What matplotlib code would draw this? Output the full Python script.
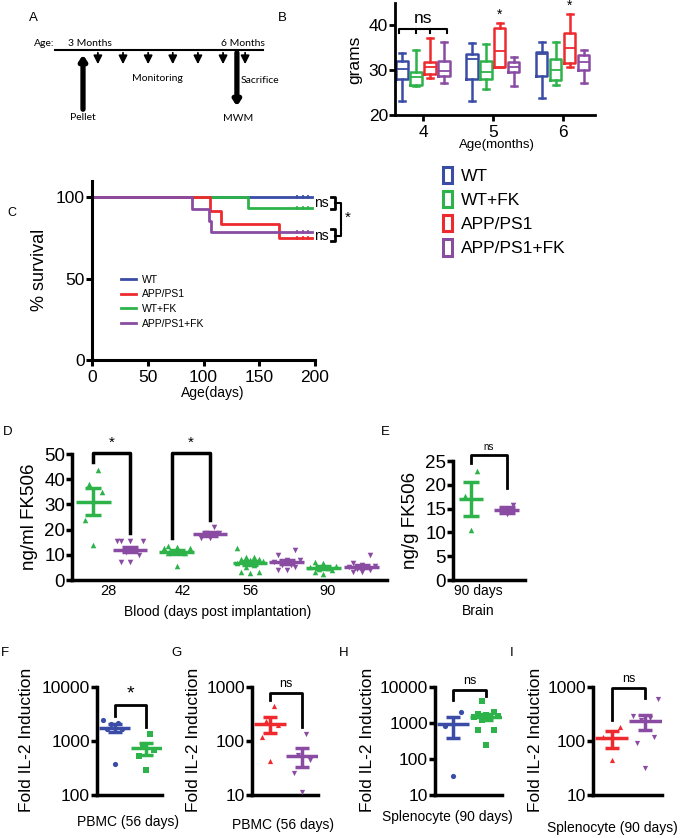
import numpy as np
import matplotlib
matplotlib.use('Agg')
import matplotlib.pyplot as plt
from matplotlib.patches import Patch
from matplotlib.lines import Line2D
from matplotlib.ticker import NullLocator

plt.rcParams['font.family'] = ['Liberation Sans', 'DejaVu Sans']

W, H = 685, 838
BLUE = '#3a4ca6'
GREEN = '#2db34a'
RED = '#ee2a2e'
PURPLE = '#8a4ca2'

# ---- A: study timeline (months of age) ----
timeline_start, timeline_end = 2.45, 6.51
pellet_month = 3.0
monitor_months = [3.29, 3.78, 4.27, 4.75, 5.24, 5.73]
mwm_month = 6.0
sacrifice_month = 6.16

# ---- B: body weight, [min, q1, median, q3, max] at each age ----
months = ['4', '5', '6']
wt_weight = [[23.1, 28.0, 30.2, 32.1, 33.8], [23.1, 28.0, 32.5, 33.7, 36.0], [23.9, 28.6, 33.7, 34.1, 36.4]]
wtfk_weight = [[26.4, 26.8, 28.5, 29.6, 34.4], [25.7, 28.1, 29.6, 32.0, 35.8], [26.6, 27.8, 30.0, 32.6, 36.4]]
app_weight = [[28.3, 29.2, 30.8, 31.9, 37.2], [30.7, 30.7, 34.3, 39.5, 40.6], [30.7, 31.5, 34.9, 38.2, 42.5]]
appfk_weight = [[27.1, 28.6, 29.8, 32.1, 36.3], [26.4, 29.6, 30.7, 31.9, 33.0], [27.1, 30.0, 31.9, 33.4, 34.5]]

# ---- C: survival ----
wt_surv_t, wt_surv = [0, 197], [100, 100]
wtfk_surv_t, wtfk_surv = [0, 140, 197], [100, 93.3, 93.3]
app_surv_t, app_surv = [0, 106, 116, 168, 197], [100, 91.7, 83.3, 75.0, 75.0]
appfk_surv_t, appfk_surv = [0, 90, 105, 107, 197], [100, 92.9, 85.7, 78.6, 78.6]
censor_t = [184, 189, 194]

# ---- D: blood FK506 (ng/ml) ----
blood_days = ['28', '42', '56', '90']
blood_wtfk = [[43.8, 38.2, 35.1, 23.9, 13.9],
              [13.5, 12.9, 12.6, 12.6, 11.3, 11.3, 10.6, 10.6, 5.6],
              [12.6, 9.3, 9.3, 8.5, 8.2, 7.8, 7.5, 6.6, 6.0, 5.0, 3.3, 3.3, 2.7],
              [7.3, 6.9, 5.5, 5.3, 4.8, 4.5, 4.0, 3.3, 2.4]]
blood_appfk = [[15.3, 15.3, 15.3, 15.3, 12.0, 11.0, 10.0, 7.3, 7.3],
               [21.0, 18.6, 18.5, 16.6, 16.6],
               [11.9, 9.9, 8.0, 8.0, 7.0, 6.0, 6.0, 5.0, 4.0, 4.0],
               [9.9, 6.6, 6.0, 5.5, 5.3, 5.0, 4.5, 4.0, 3.3, 3.3]]

# ---- E: brain FK506 (ng/g) ----
brain_wtfk = [22.9, 17.6, 10.5]
brain_appfk = [15.8, 14.5, 13.8]

# ---- F-I: fold IL-2 induction ----
pbmc_wt = [2400, 2200, 2100, 1700, 1650, 370]
pbmc_wtfk = [1330, 810, 680, 530, 290]
pbmc_app = [445, 230, 200, 120, 42]
pbmc_appfk = [132, 55, 45, 25.5, 11.5]
spl_wt = [1970, 800, 33.4]
spl_wtfk = [3980, 1970, 1800, 1700, 1600, 1500, 1300, 1200, 650, 650, 240]
spl_app = [182, 120, 44]
spl_appfk = [590, 285, 270, 240, 120, 93, 32]


fig = plt.figure(figsize=(W / 100, H / 100), dpi=100)


def ax_at(l, t, r, b):
    return fig.add_axes([l / W, 1 - b / H, (r - l) / W, (b - t) / H])


def ftext(x, y, s, **kw):
    kw.setdefault('ha', 'center')
    kw.setdefault('va', 'center')
    fig.text(x / W, 1 - y / H, s, **kw)


def style(ax, lw=2.2, xtick_len=0, xsize=10, ysize=12.5):
    for s in ['top', 'right']:
        ax.spines[s].set_visible(False)
    for s in ['left', 'bottom']:
        ax.spines[s].set_linewidth(lw)
    ax.tick_params(axis='y', width=lw, length=4, labelsize=ysize, pad=1)
    ax.tick_params(axis='x', width=lw, length=xtick_len, labelsize=xsize, pad=3)


def dot_sem(ax, x, vals, color, marker, half, cap=5, s=14):
    vals = np.asarray(vals, float)
    n = len(vals)
    order = np.argsort(vals)
    offs = np.empty(n)
    offs[order] = np.resize([0, -1, 1, -0.5, 0.5, -1.5, 1.5], n) * half * 0.5
    m = vals.mean()
    se = vals.std(ddof=1) / np.sqrt(n)
    ax.scatter(x + offs, vals, s=s, marker=marker, color=color, lw=0, zorder=3, clip_on=False)
    ax.plot([x - half, x + half], [m, m], color=color, lw=2.5, solid_capstyle='butt', zorder=4)
    ax.errorbar(x, m, yerr=se, color=color, elinewidth=2.5, capsize=cap, capthick=2.5, zorder=4)


def bracket(ax, x1, x2, ytop, y1, y2, text, fs=9, lw=2):
    ax.plot([x1, x1, x2, x2], [y1, ytop, ytop, y2], color='k', lw=lw, clip_on=False)
    ax.annotate(text, xy=((x1 + x2) / 2, ytop), xytext=(0, 2), textcoords='offset points',
                ha='center', va='bottom', fontsize=fs, annotation_clip=False)


# ================= A =================
axA = ax_at(0, 0, 300, 150)
axA.set_xlim(3 - 83 / 51.3, 3 + 217 / 51.3)
axA.set_ylim(150, 0)
axA.axis('off')
fa = dict(family=['Lato', 'DejaVu Sans'], fontsize=7.5)
axA.plot([timeline_start, timeline_end], [50, 50], color='k', lw=1.5)
for m in monitor_months + [sacrifice_month]:
    axA.annotate('', xy=(m, 67), xytext=(m, 50),
                 arrowprops=dict(arrowstyle='-|>,head_width=0.25,head_length=0.5', lw=1.3, color='k'))
axA.annotate('', xy=(pellet_month, 52), xytext=(pellet_month, 112),
             arrowprops=dict(arrowstyle='-|>,head_width=0.2,head_length=0.3', lw=3.8, color='k'))
axA.annotate('', xy=(mwm_month, 109), xytext=(mwm_month, 50),
             arrowprops=dict(arrowstyle='-|>,head_width=0.2,head_length=0.3', lw=3.8, color='k'))
axA.text(2.45, 48, 'Age:', ha='right', va='bottom', **fa)
axA.text(pellet_month + 0.13, 48, '3 Months', ha='center', va='bottom', **fa)
axA.text(mwm_month + 0.11, 48, '6 Months', ha='center', va='bottom', **fa)
axA.text(4.46, 78, 'Monitoring', ha='center', va='center', **fa)
axA.text(sacrifice_month - 0.08, 80, 'Sacrifice', ha='left', va='center', **fa)
axA.text(pellet_month, 117, 'Pellet', ha='center', va='center', **fa)
axA.text(mwm_month + 0.03, 118, 'MWM', ha='center', va='center', **fa)
ftext(33, 18, 'A', fontsize=9.5)

# ================= B =================
axB = ax_at(395, 3, 595, 115)
groups = [(wt_weight, BLUE, 'WT'), (wtfk_weight, GREEN, 'WT+FK'),
          (app_weight, RED, 'APP/PS1'), (appfk_weight, PURPLE, 'APP/PS1+FK')]
offsets = [-0.3, -0.1, 0.1, 0.3]
xm = np.arange(len(months))
for (data, c, _), off in zip(groups, offsets):
    stats = [dict(whislo=d[0], q1=d[1], med=d[2], q3=d[3], whishi=d[4], fliers=[]) for d in data]
    pr = dict(color=c, lw=1.8)
    axB.bxp(stats, positions=xm + off, widths=0.16, showfliers=False, manage_ticks=False,
            boxprops=pr, whiskerprops=pr, capprops=pr, medianprops=dict(color=c, lw=1.3))
axB.set_xlim(-0.4, 2.46)
axB.set_ylim(20, 45)
axB.set_yticks([20, 30, 40])
axB.set_xticks(xm, months)
style(axB, lw=2, xtick_len=4, xsize=12.5, ysize=12.5)
bracket(axB, -0.34, 0.34, 39.3, 38.4, 38.4, 'ns', fs=12.5, lw=1.5)
for o in offsets[1:3]:
    axB.plot([o, o], [39.3, 38.4], color='k', lw=1.5, clip_on=False)
for i in [1, 2]:
    axB.annotate('*', xy=(xm[i] + 0.1, app_weight[i][4]), xytext=(0, 1), textcoords='offset points',
                 ha='center', va='bottom', fontsize=10, annotation_clip=False)
ftext(355, 60, 'grams', rotation=90, fontsize=12.5)
ftext(497, 145, 'Age(months)', fontsize=9.5)
ftext(282, 18, 'B', fontsize=9.5)
handles = [Patch(facecolor='white', edgecolor=c, lw=2.2, label=l) for _, c, l in groups]
fig.legend(handles=handles, loc='upper left', bbox_to_anchor=(434 / W, 1 - 158 / H),
           frameon=False, fontsize=12.5, handlelength=0.55, handleheight=1.05,
           handletextpad=0.5, labelspacing=0.42, borderpad=0)

# ================= C =================
axC = ax_at(92, 181, 315, 360)
curves = [(wt_surv_t, wt_surv, BLUE, 'WT'), (app_surv_t, app_surv, RED, 'APP/PS1'),
          (wtfk_surv_t, wtfk_surv, GREEN, 'WT+FK'), (appfk_surv_t, appfk_surv, PURPLE, 'APP/PS1+FK')]
for t, s, c, l in [curves[0], curves[2], curves[1], curves[3]]:
    axC.step(t, s, where='post', color=c, lw=2, label=l, clip_on=False)
    axC.plot(censor_t, [s[-1]] * len(censor_t), ls='none', marker='|', ms=3, mew=1.2, color=c, clip_on=False)
axC.set_xlim(0, 200)
axC.set_ylim(0, 110)
axC.set_yticks([0, 50, 100])
axC.set_xticks([0, 50, 100, 150, 200])
style(axC, lw=2.2, xtick_len=4, xsize=12.5, ysize=12.5)
leg_h = [Line2D([], [], color=c, lw=2) for _, _, c, _ in curves]
axC.legend(leg_h, [l for *_, l in curves], loc='upper left', bbox_to_anchor=(0.09, 0.53),
           frameon=False, fontsize=7.5, handlelength=1.4, labelspacing=0.45, handletextpad=0.6)
for yc, ya, yb in [(96.5, 100.2, 92.8), (76.2, 80.5, 73.1)]:
    axC.text(206, yc, 'ns', ha='center', va='center', fontsize=10, clip_on=False)
    axC.plot([214.5, 218, 218, 214.5], [ya, ya, yb, yb], color='k', lw=2, clip_on=False)
axC.plot([218, 223.3, 223.3, 218], [96.5, 96.5, 76.2, 76.2], color='k', lw=1.5, clip_on=False)
axC.text(229.6, 87.3, '*', ha='center', va='center', fontsize=11, clip_on=False)
ftext(40, 270, '% survival', rotation=90, fontsize=13)
ftext(213, 393, 'Age(days)', fontsize=10)
ftext(12, 213, 'C', fontsize=9)

# ================= D =================
axD = ax_at(72, 454, 387, 580)
green_x = [0.68, 3.32, 5.65, 7.98]
purple_x = [1.84, 4.38, 6.81, 9.2]
tick_x = [1.14, 3.52, 5.68, 8.10]
for gx, px_, g, p in zip(green_x, purple_x, blood_wtfk, blood_appfk):
    dot_sem(axD, gx, g, GREEN, '^', half=0.55, cap=6, s=16)
    dot_sem(axD, px_, p, PURPLE, 'v', half=0.55, cap=6, s=16)
axD.set_xlim(0, 10)
axD.set_ylim(0, 50)
axD.set_yticks(range(0, 51, 10))
axD.set_xticks(tick_x, blood_days)
style(axD, lw=2.5, xsize=10.5, ysize=13.5)
bracket(axD, green_x[0], purple_x[0], 50.4, 47, 18.6, '*', fs=11, lw=2.5)
bracket(axD, green_x[1] - 0.15, purple_x[1], 50.4, 16.6, 23.9, '*', fs=11, lw=2.5)
ftext(30, 517, 'ng/ml FK506', rotation=90, fontsize=13.5)
ftext(218, 612, 'Blood (days post implantation)', fontsize=10)
ftext(8, 432, 'D', fontsize=9.5)

# ================= E =================
axE = ax_at(453, 461, 525, 580)
dot_sem(axE, 0.25, brain_wtfk, GREEN, '^', half=0.17, cap=6, s=16)
dot_sem(axE, 0.745, brain_appfk, PURPLE, 'v', half=0.17, cap=6, s=16)
axE.set_xlim(0, 1)
axE.set_ylim(0, 25)
axE.set_yticks(range(0, 26, 5))
axE.set_xticks([0.35], ['90 days'])
style(axE, lw=2.5, xsize=10, ysize=13.5)
bracket(axE, 0.25, 0.745, 26.3, 24.6, 19.3, 'ns', fs=7, lw=2)
ftext(410, 520, 'ng/g FK506', rotation=90, fontsize=13.5)
ftext(478, 611, 'Brain', fontsize=10)
ftext(385, 432, 'E', fontsize=9.5)

# ================= F-I =================
il2_panels = [
    ('F', (97, 687, 162, 795), (100, 10000), pbmc_wt, BLUE, 'o', pbmc_wtfk, GREEN, 's',
     '*', (4580, 2900, 1840), 27, 'PBMC (56 days)', (128, 822), 5),
    ('G', (252, 687, 318, 795), (10, 1000), pbmc_app, RED, '^', pbmc_appfk, PURPLE, 'v',
     'ns', (778, 575, 178), 193, 'PBMC (56 days)', (283, 825), 177),
    ('H', (435, 687, 502, 795), (10, 10000), spl_wt, BLUE, 'o', spl_wtfk, GREEN, 's',
     'ns', (8500, 4260, 5500), 367, 'Splenocyte (90 days)', (447, 817), 344),
    ('I', (593, 687, 662, 795), (10, 1000), spl_app, RED, '^', spl_appfk, PURPLE, 'v',
     'ns', (960, 247, 630), 535, 'Splenocyte (90 days)', (612, 828), 512),
]
for (lab, box, ylim, v1, c1, m1, v2, c2, m2, sig, br, ylx, xl, xlpos, labx) in il2_panels:
    ax = ax_at(*box)
    ax.set_yscale('log')
    x1, x2 = 0.27, 0.76
    dot_sem(ax, x1, v1, c1, m1, half=0.24, cap=5, s=14)
    dot_sem(ax, x2, v2, c2, m2, half=0.24, cap=5, s=14)
    ax.set_xlim(0, 1)
    ax.set_ylim(*ylim)
    dec = 10 ** np.arange(np.log10(ylim[0]), np.log10(ylim[1]) + 1)
    ax.set_yticks(dec, [f'{int(d)}' for d in dec])
    ax.yaxis.set_minor_locator(NullLocator())
    ax.set_xticks([])
    style(ax, lw=2.5, ysize=12.5)
    bracket(ax, x1, x2, br[0], br[1], br[2], sig, fs=14 if sig == '*' else 9, lw=2)
    ftext(ylx, 740, 'Fold IL-2 Induction', rotation=90, fontsize=12.5)
    ftext(xlpos[0], xlpos[1], xl, fontsize=10)
    ftext(labx, 653, lab, fontsize=9.5)

fig.savefig('out.png', dpi=100)
